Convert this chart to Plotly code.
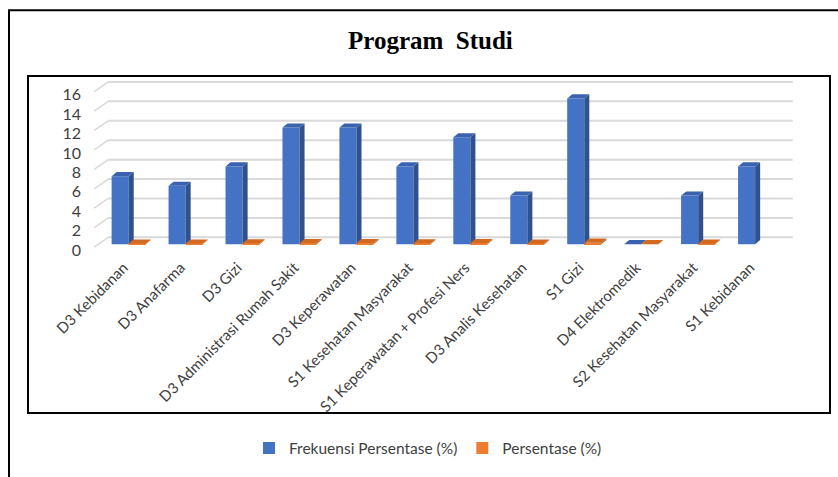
import plotly.graph_objects as go

# ---------------- data ----------------
categories = ["D3 Kebidanan", "D3 Anafarma", "D3 Gizi", "D3 Administrasi Rumah Sakit",
              "D3 Keperawatan", "S1 Kesehatan Masyarakat", "S1 Keperawatan + Profesi Ners",
              "D3 Analis Kesehatan", "S1 Gizi", "D4 Elektromedik",
              "S2 Kesehatan Masyarakat", "S1 Kebidanan"]
frekuensi = [7, 6, 8, 12, 12, 8, 11, 5, 15, 0, 5, 8]
persentase = [0.07, 0.06, 0.08, 0.12, 0.12, 0.08, 0.11, 0.05, 0.15, 0.0, 0.05, None]
y_ticks = [0, 2, 4, 6, 8, 10, 12, 14, 16]
series_names = ["Frekuensi Persentase (%)", "Persentase (%)"]
title_text = "Program  Studi"

# ---------------- styling / geometry ----------------
W, H = 838, 477
L, R, T, B = 86, 43, 79, 225
PW, PH = W - L - R, H - T - B
XR = [-0.75, 11.7]
YR = [-0.5, 17]
BLUE, BLUE_SIDE, BLUE_TOP = "#4472C4", "#2F528F", "#3A62AE"
ORANGE, ORANGE_SIDE, ORANGE_TOP = "#ED7D31", "#B85F20", "#D2691E"
TXT = "#404040"
FONT = "Lato"
DX, DY = 0.088, 0.42       # 3-D depth of bars (data units)
GDY = 0.70                 # back wall offset for gridlines


def px_x(p):
    return (p - L) / PW


def px_y(p):
    return (H - B - p) / PH


xs = list(range(len(categories)))

fig = go.Figure()
fig.add_trace(go.Bar(x=xs, y=frekuensi, name=series_names[0], marker_color=BLUE,
                     marker_line_width=0))
fig.add_trace(go.Bar(x=xs, y=persentase, name=series_names[1], marker_color=ORANGE,
                     marker_line_width=0))

shapes = []
# back-wall gridlines with perspective connectors
for v in y_ticks:
    shapes.append(dict(type="line", xref="x", yref="y", x0=-0.36, x1=11.66,
                       y0=v + GDY, y1=v + GDY, line=dict(color="#D9D9D9", width=2),
                       layer="below"))
    shapes.append(dict(type="line", xref="x", yref="y", x0=-0.605, x1=-0.36,
                       y0=v - 0.3, y1=v + GDY, line=dict(color="#D9D9D9", width=1.5),
                       layer="below"))


def faces(xl, xr, v, side_col, top_col):
    out = []
    side = (f"M {xr},0 L {xr + DX},{DY} L {xr + DX},{v + DY} L {xr},{v} Z")
    top = (f"M {xl},{v} L {xr},{v} L {xr + DX},{v + DY} L {xl + DX},{v + DY} Z")
    out.append(dict(type="path", xref="x", yref="y", path=side, fillcolor=side_col,
                    line=dict(width=0), layer="above"))
    out.append(dict(type="path", xref="x", yref="y", path=top, fillcolor=top_col,
                    line=dict(width=0), layer="above"))
    return out


for i, v in enumerate(frekuensi):
    if v is not None:
        shapes += faces(i - 0.3, i, v, BLUE_SIDE, BLUE_TOP)
for i, v in enumerate(persentase):
    if v is not None:
        shapes += faces(i, i + 0.3, v, ORANGE_SIDE, ORANGE_TOP)

# borders
shapes.append(dict(type="rect", xref="paper", yref="paper",
                   x0=px_x(9), x1=px_x(850), y0=px_y(490), y1=px_y(9),
                   line=dict(color="black", width=2)))
shapes.append(dict(type="rect", xref="paper", yref="paper",
                   x0=px_x(28), x1=px_x(830), y0=px_y(419), y1=px_y(76),
                   line=dict(color="black", width=2)))

fig.update_layout(
    width=W, height=H,
    margin=dict(l=L, r=R, t=T, b=B, pad=0),
    paper_bgcolor="white", plot_bgcolor="rgba(0,0,0,0)",
    barmode="group", bargap=0.4, bargroupgap=0,
    shapes=shapes,
    font=dict(family=FONT, size=15, color=TXT),
    showlegend=True,
    legend=dict(orientation="h", x=px_x(428), y=px_y(455), xanchor="center",
                yanchor="middle", itemwidth=30,
                font=dict(family=FONT, size=15.5, color=TXT),
                bgcolor="rgba(0,0,0,0)"),
    annotations=[dict(text=f"<b>{title_text}</b>", xref="paper", yref="paper",
                      x=px_x(430), y=px_y(40), xanchor="center", yanchor="middle",
                      showarrow=False,
                      font=dict(family="Liberation Serif", size=25, color="black"))],
)
fig.update_xaxes(range=XR, tickmode="array", tickvals=xs, ticktext=categories,
                 tickangle=-45, showgrid=False, zeroline=False, showline=False,
                 ticks="", ticklabelshift=-5, ticklabelstandoff=6,
                 tickfont=dict(family=FONT, size=15, color=TXT))
fig.update_yaxes(range=YR, tickmode="array", tickvals=y_ticks, showgrid=False,
                 zeroline=False, showline=False, ticks="", ticklabelshift=6,
                 ticklabelstandoff=4, tickfont=dict(family=FONT, size=16, color=TXT))

fig.write_html("out.html")
